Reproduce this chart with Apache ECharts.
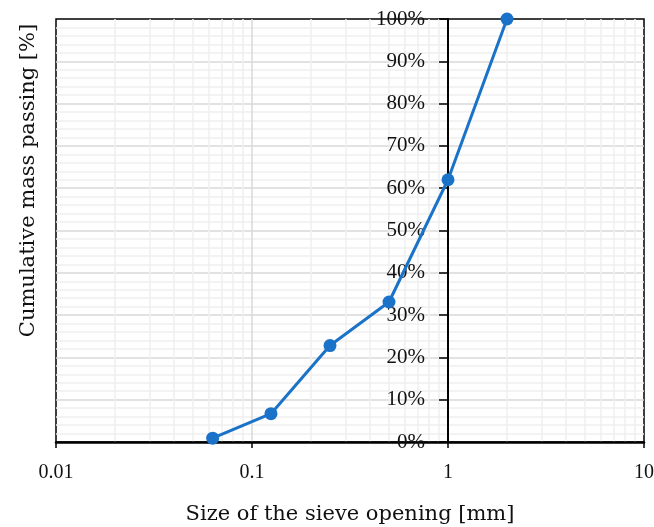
<!DOCTYPE html>
<html><head><meta charset="utf-8">
<script src="https://cdn.jsdelivr.net/npm/echarts@6/dist/echarts.min.js"></script>
<style>html,body{margin:0;padding:0;background:#fff}#c{width:654px;height:527px}</style>
</head><body><div id="c"></div>
<script>
const sieveSizes = [0.063, 0.125, 0.25, 0.5, 1, 2];
const massPassing = [0.9, 6.7, 22.8, 33.1, 62.0, 100];
const xTickLabels = ['0.01', '0.1', '1', '10'];
const xTitle = 'Size of the sieve opening [mm]';
const yTitle = 'Cumulative mass passing [%]';

const chart = echarts.init(document.getElementById('c'), null, {renderer: 'canvas'});
const serif = 'Liberation Serif';
const titleFont = 'DejaVu Serif';
chart.setOption({
  animation: false,
  grid: [
    {left: 56, right: 10, top: 19, bottom: 85, show: true, borderColor: '#000', borderWidth: 1.5,
     backgroundColor: 'transparent', containLabel: false, outerBoundsMode: 'none'},
    {left: 448, right: 10, top: 19, bottom: 85, show: false, containLabel: false, outerBoundsMode: 'none'}
  ],
  xAxis: [
    {
      type: 'log', logBase: 10, min: 0.01, max: 10, gridIndex: 0, z: 2,
      axisLine: {show: true, lineStyle: {color: '#000', width: 2.5}},
      axisTick: {show: true, length: 6, lineStyle: {color: '#000', width: 1.5}},
      axisLabel: {margin: 21, color: '#111', fontFamily: serif, fontSize: 20, hideOverlap: false,
        showMinLabel: true, showMaxLabel: true,
        formatter: function (v) { const s = String(+v.toPrecision(6)); return xTickLabels.indexOf(s) >= 0 ? s : ''; }},
      splitLine: {show: true, showMinLine: false, showMaxLine: false, lineStyle: {color: '#d9d9d9', width: 1.5}},
      minorTick: {show: false, splitNumber: 9},
      minorSplitLine: {show: true, lineStyle: {color: '#efefef', width: 1.5}},
      name: xTitle, nameLocation: 'middle', nameGap: 62,
      nameTextStyle: {fontFamily: titleFont, fontSize: 21, color: '#111'}
    },
    {type: 'value', gridIndex: 1, show: false, min: 0, max: 1}
  ],
  yAxis: [
    {
      type: 'value', min: 0, max: 100, interval: 10, gridIndex: 0, z: 1,
      axisLine: {show: false}, axisTick: {show: false}, axisLabel: {show: false},
      splitLine: {show: true, showMinLine: false, showMaxLine: false, lineStyle: {color: '#d9d9d9', width: 1.5}},
      minorSplitLine: {show: true, lineStyle: {color: '#efefef', width: 1.5}},
      minorTick: {show: false, splitNumber: 5},
      name: yTitle, nameLocation: 'middle', nameGap: 17, nameRotate: 90,
      nameTextStyle: {fontFamily: titleFont, fontSize: 21, color: '#111', padding: [0, 0, 0, 100]}
    },
    {
      type: 'value', min: 0, max: 100, interval: 10, gridIndex: 1, position: 'left', z: 4,
      axisLine: {show: true, lineStyle: {color: '#000', width: 2}},
      axisTick: {show: true, inside: false, length: 9, lineStyle: {color: '#000', width: 1.5}},
      axisLabel: {margin: 23, color: '#111', fontFamily: serif, fontSize: 21, formatter: '{value}%'},
      splitLine: {show: false}
    }
  ],
  series: [{
    type: 'line', xAxisIndex: 0, yAxisIndex: 0, z: 5,
    data: sieveSizes.map((s, i) => [s, massPassing[i]]),
    symbol: 'circle', symbolSize: 13,
    lineStyle: {color: '#1a73c8', width: 3},
    itemStyle: {color: '#1a73c8'}
  }]
});
</script></body></html>
